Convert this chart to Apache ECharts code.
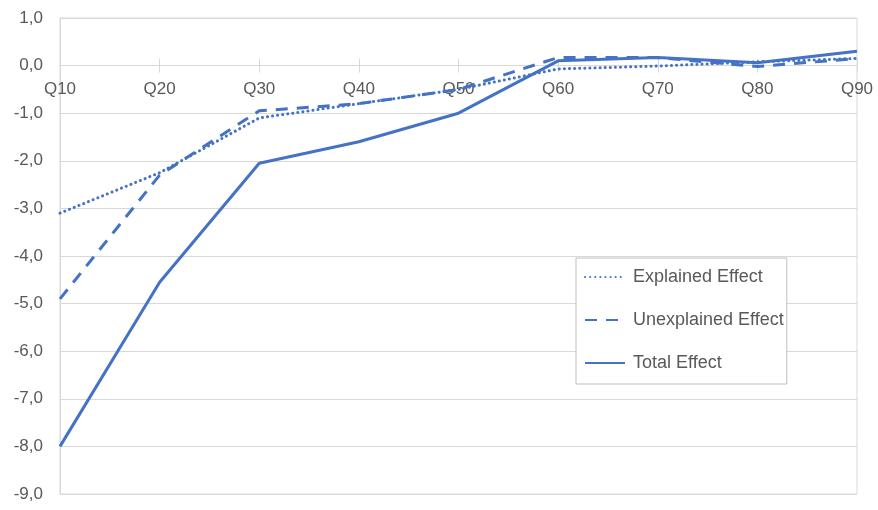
<!DOCTYPE html>
<html>
<head>
<meta charset="utf-8">
<script src="https://cdn.jsdelivr.net/npm/echarts@6/dist/echarts.min.js"></script>
<style>
  html, body { margin: 0; padding: 0; background: #fff; }
  #chart { width: 878px; height: 510px; }
</style>
</head>
<body>
<div id="chart"></div>
<script>
// Quantile categories along the horizontal axis
const quantiles = ['Q10', 'Q20', 'Q30', 'Q40', 'Q50', 'Q60', 'Q70', 'Q80', 'Q90'];

// Decomposition of the effect at each quantile
const explainedEffect = [-3.1, -2.25, -1.1, -0.8, -0.5, -0.07, -0.01, 0.08, 0.15];
const unexplainedEffect = [-4.9, -2.3, -0.95, -0.8, -0.5, 0.17, 0.17, -0.02, 0.15];
const totalEffect = [-8.0, -4.55, -2.05, -1.6, -1.0, 0.1, 0.17, 0.06, 0.3];

// Value axis range
const yMin = -9;
const yMax = 1;
const yStep = 1;

const blue = '#4472C4';
const grey = '#595959';
const gridGrey = '#d9d9d9';
const fontFamily = '"Liberation Sans", Arial, sans-serif';

const W = 878, H = 510;
const gridBox = { left: 60, right: 21, top: 18, bottom: 16 };
const plotHeight = H - gridBox.top - gridBox.bottom;
// distance of the zero line from the bottom and from the top of the plot
const zeroFromBottom = plotHeight * (0 - yMin) / (yMax - yMin);
const zeroFromTop = plotHeight * (yMax - 0) / (yMax - yMin);

const chart = echarts.init(document.getElementById('chart'), null, { renderer: 'canvas', width: W, height: H });

chart.setOption({
  animation: false,
  backgroundColor: '#ffffff',
  grid: Object.assign({
    outerBoundsMode: 'none',
    containLabel: false,
    show: true, borderColor: gridGrey, borderWidth: 1
  }, gridBox),
  legend: {
    orient: 'vertical',
    left: 576, top: 258,
    padding: [10, 3, 12, 8],
    itemGap: 25,
    itemWidth: 40,
    itemHeight: 18,
    backgroundColor: '#ffffff',
    borderColor: '#bfbfbf',
    borderWidth: 1,
    itemStyle: { opacity: 0 },
    textStyle: { color: grey, fontSize: 18, fontFamily: fontFamily, padding: [0, 0, 0, 3] },
    data: ['Explained Effect', 'Unexplained Effect', 'Total Effect']
  },
  xAxis: [
    {
      // labelled axis on the zero line, ticks hanging below it
      type: 'category',
      data: quantiles,
      boundaryGap: false,
      position: 'bottom',
      offset: -zeroFromBottom,
      axisLine: { onZero: false, lineStyle: { color: gridGrey, width: 1 } },
      axisTick: { show: true, length: 7, lineStyle: { color: gridGrey } },
      axisLabel: { color: grey, fontSize: 17, fontFamily: fontFamily, margin: 15 }
    },
    {
      // companion axis supplying the upper half of the crossing ticks
      type: 'category',
      data: quantiles,
      boundaryGap: false,
      position: 'top',
      offset: -zeroFromTop,
      axisLine: { onZero: false, lineStyle: { color: gridGrey, width: 1 } },
      axisTick: { show: true, length: 7, lineStyle: { color: gridGrey } },
      axisLabel: { show: false }
    }
  ],
  yAxis: {
    type: 'value',
    min: yMin, max: yMax, interval: yStep,
    axisLine: { show: true, onZero: false, lineStyle: { color: gridGrey } },
    axisTick: { show: false },
    splitLine: { lineStyle: { color: gridGrey, width: 1 } },
    axisLabel: {
      color: grey, fontSize: 17, fontFamily: fontFamily, margin: 17,
      formatter: v => v.toFixed(1).replace('.', ',')
    }
  },
  series: [
    {
      name: 'Explained Effect',
      type: 'line',
      data: explainedEffect,
      symbol: 'none',
      lineStyle: { color: blue, width: 3, type: [0.1, 5], cap: 'round' },
      itemStyle: { color: blue },
      z: 3
    },
    {
      name: 'Unexplained Effect',
      type: 'line',
      data: unexplainedEffect,
      symbol: 'none',
      lineStyle: { color: blue, width: 3, type: [12, 9] },
      itemStyle: { color: blue },
      z: 4
    },
    {
      name: 'Total Effect',
      type: 'line',
      data: totalEffect,
      symbol: 'none',
      lineStyle: { color: blue, width: 3 },
      itemStyle: { color: blue },
      z: 5
    }
  ]
});
</script>
</body>
</html>
